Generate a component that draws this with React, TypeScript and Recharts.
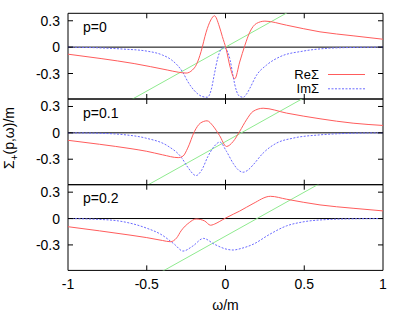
import React from 'react';
import { LineChart, Line, XAxis, YAxis, ReferenceLine, ReferenceArea, Legend } from 'recharts';

// ---------- data ----------
const X_TICKS = [-1, -0.5, 0, 0.5, 1];
const X_TICK_LABELS = ['-1', '-0.5', '0', '0.5', '1'];
const Y_TICKS = [-0.3, 0, 0.3];
const Y_TICK_LABELS = ['-0.3', '0', '0.3'];
const P_LABELS = ['p=0', 'p=0.1', 'p=0.2'];
const SERIES_NAMES = ['ReΣ', 'ImΣ'];

// p = 0
const re0Omega = [-1, -0.79, -0.58, -0.37, -0.3, -0.25, -0.21, -0.185, -0.155, -0.123, -0.093, -0.07, -0.04, -0.02, 0.004, 0.03, 0.059, 0.09, 0.123, 0.154, 0.197, 0.25, 0.387, 0.6, 0.81, 1];
const re0 = [-0.08, -0.13, -0.187, -0.26, -0.285, -0.295, -0.26, -0.2, -0.05, 0.17, 0.31, 0.357, 0.24, 0.12, -0.02, -0.23, -0.36, -0.17, 0.02, 0.17, 0.27, 0.296, 0.25, 0.174, 0.129, 0.09];
const im0Omega = [-1, -0.8, -0.65, -0.5, -0.4, -0.343, -0.27, -0.24, -0.2, -0.15, -0.115, -0.09, -0.07, -0.05, -0.03, -0.01, 0.01, 0.03, 0.048, 0.07, 0.09, 0.112, 0.135, 0.154, 0.197, 0.26, 0.345, 0.49, 0.66, 0.8, 1];
const im0 = [0, -0.008, -0.022, -0.045, -0.09, -0.145, -0.29, -0.39, -0.49, -0.56, -0.57, -0.48, -0.3, -0.13, -0.03, -0.005, -0.04, -0.15, -0.33, -0.5, -0.56, -0.57, -0.53, -0.47, -0.32, -0.205, -0.11, -0.046, -0.012, -0.004, 0];

// p = 0.1
const re1Omega = [-1, -0.8, -0.6, -0.5, -0.4, -0.3, -0.27, -0.24, -0.197, -0.16, -0.117, -0.08, -0.038, 0.006, 0.048, 0.09, 0.133, 0.175, 0.239, 0.387, 0.6, 0.81, 1];
const re1 = [-0.085, -0.13, -0.18, -0.21, -0.25, -0.282, -0.265, -0.174, 0.016, 0.11, 0.137, 0.08, -0.03, -0.155, -0.1, 0.016, 0.148, 0.244, 0.28, 0.225, 0.16, 0.11, 0.084];
const im1Omega = [-1, -0.8, -0.65, -0.506, -0.366, -0.28, -0.24, -0.187, -0.15, -0.112, -0.07, -0.036, 0.006, 0.048, 0.08, 0.112, 0.145, 0.175, 0.239, 0.324, 0.43, 0.6, 0.8, 1];
const im1 = [0, -0.005, -0.02, -0.06, -0.15, -0.28, -0.39, -0.486, -0.42, -0.27, -0.15, -0.105, -0.21, -0.345, -0.42, -0.448, -0.42, -0.365, -0.23, -0.117, -0.06, -0.023, -0.005, 0];

// p = 0.2
const re2Omega = [-1, -0.8, -0.6, -0.5, -0.4, -0.35, -0.31, -0.282, -0.23, -0.187, -0.133, -0.095, -0.06, -0.02, 0, 0.05, 0.09, 0.175, 0.285, 0.387, 0.6, 0.81, 1];
const re2 = [-0.093, -0.14, -0.19, -0.217, -0.25, -0.264, -0.22, -0.14, -0.046, -0.005, -0.027, -0.076, -0.055, -0.015, 0.005, 0.05, 0.085, 0.17, 0.253, 0.22, 0.155, 0.117, 0.087];
const im2Omega = [-1, -0.8, -0.68, -0.5, -0.41, -0.324, -0.27, -0.207, -0.14, -0.07, 0.01, 0.048, 0.1, 0.175, 0.28, 0.387, 0.49, 0.66, 0.8, 1];
const im2 = [0, -0.01, -0.027, -0.11, -0.18, -0.293, -0.37, -0.312, -0.226, -0.293, -0.35, -0.358, -0.34, -0.293, -0.18, -0.084, -0.039, -0.01, -0.003, 0];

// light line omega - p
const greenOmega = [-1, 1];
const green0 = [-1, 1];
const green1 = [-1.1, 0.9];
const green2 = [-1.2, 0.8];

// ---------- layout / style ----------
const W = 407;
const H = 313;
const PLOT_LEFT = 68;
const PLOT_RIGHT = 383;
const PANEL_TOPS = [13.3, 99, 184.7];
const PANEL_H = 85.7;
const X_MIN = -1;
const X_MAX = 1;
const Y_MIN = -0.59;
const Y_MAX = 0.385;
const FONT = '"Liberation Sans", Arial, Helvetica, sans-serif';
const FS = 14;
const LEGEND_FS = 13;
const TICK_PX = 5;
const TX = (TICK_PX / (PLOT_RIGHT - PLOT_LEFT)) * (X_MAX - X_MIN);
const TY = (TICK_PX / PANEL_H) * (Y_MAX - Y_MIN);
const RED = '#ff5c5c';
const BLUE = '#6a6aff';
const GREEN = '#8fea8f';
const DASH = '2 1.5';

const zip = (xs: number[], ys: number[]) => xs.map((x, i) => ({ x, y: ys[i] }));

const PANELS = [
  { re: zip(re0Omega, re0), im: zip(im0Omega, im0), green: zip(greenOmega, green0) },
  { re: zip(re1Omega, re1), im: zip(im1Omega, im1), green: zip(greenOmega, green1) },
  { re: zip(re2Omega, re2), im: zip(im2Omega, im2), green: zip(greenOmega, green2) },
];

const xLabel = (v: number) => X_TICK_LABELS[X_TICKS.indexOf(v)] ?? String(v);
const yLabel = (v: number) => Y_TICK_LABELS[Y_TICKS.indexOf(v)] ?? String(v);

const bottomTick = (props: any) => {
  const { x, y, payload } = props;
  return (
    <text x={x} y={y + 19} textAnchor="middle" fontSize={FS} fontFamily={FONT} fill="#000">
      {xLabel(payload.value)}
    </text>
  );
};
const leftTick = (props: any) => {
  const { x, y, payload } = props;
  return (
    <text x={x - 8} y={y + 5} textAnchor="end" fontSize={FS} fontFamily={FONT} fill="#000">
      {yLabel(payload.value)}
    </text>
  );
};

const LegendBox = () => (
  <svg width={100} height={32} style={{ display: 'block' }}>
    {SERIES_NAMES.map((name, i) => (
      <g key={name}>
        <text x={39} y={13 + i * 14.3} textAnchor="end" fontSize={LEGEND_FS} fontFamily={FONT} fill="#000">
          {name}
        </text>
        <line
          x1={48}
          x2={85}
          y1={8.5 + i * 14.3}
          y2={8.5 + i * 14.3}
          stroke={i === 0 ? RED : BLUE}
          strokeDasharray={i === 0 ? undefined : DASH}
        />
      </g>
    ))}
  </svg>
);

const innerXTicks = X_TICKS.filter((t) => t > X_MIN && t < X_MAX);

function Panel({ idx }: { idx: number }) {
  const top = PANEL_TOPS[idx];
  const bottom = top + PANEL_H;
  const last = idx === PANELS.length - 1;
  const d = PANELS[idx];
  return (
    <div style={{ position: 'absolute', left: 0, top: 0 }}>
      <LineChart
        width={W}
        height={H}
        margin={{ top, right: W - PLOT_RIGHT, bottom: last ? 0 : H - bottom, left: 0 }}
      >
        <XAxis
          type="number"
          dataKey="x"
          orientation="bottom"
          domain={[X_MIN, X_MAX]}
          ticks={X_TICKS}
          interval={0}
          allowDataOverflow
          hide={!last}
          height={last ? H - bottom : 0}
          tickSize={0}
          tickMargin={0}
          tickLine={false}
          axisLine={false}
          tick={bottomTick}
          label={
            last
              ? {
                  content: (p: any) => {
                    const vb = p.viewBox || {};
                    return (
                      <text
                        x={vb.x + vb.width / 2}
                        y={vb.y + 40}
                        textAnchor="middle"
                        fontSize={FS}
                        fontFamily={FONT}
                        fill="#000"
                      >
                        ω/m
                      </text>
                    );
                  },
                }
              : undefined
          }
        />
        <YAxis
          type="number"
          orientation="left"
          domain={[Y_MIN, Y_MAX]}
          ticks={Y_TICKS}
          interval={0}
          allowDataOverflow
          width={PLOT_LEFT}
          tickSize={0}
          tickMargin={0}
          tickLine={false}
          axisLine={false}
          tick={leftTick}
          label={
            idx === 1
              ? {
                  content: () => (
                    <text
                      transform="translate(13.5,138) rotate(-90)"
                      textAnchor="middle"
                      fontSize={FS}
                      fontFamily={FONT}
                      fill="#000"
                    >
                      Σ
                      <tspan dy={4} fontSize={10}>
                        +
                      </tspan>
                      <tspan dy={-4}>(p,ω)/m</tspan>
                    </text>
                  ),
                }
              : undefined
          }
        />
        <ReferenceLine y={0} stroke="#000" />
        <Line
          data={d.green}
          dataKey="y"
          type="linear"
          stroke={GREEN}
          strokeWidth={1}
          dot={false}
          legendType="none"
          isAnimationActive={false}
        />
        <Line
          data={d.im}
          dataKey="y"
          name={SERIES_NAMES[1]}
          type="monotone"
          stroke={BLUE}
          strokeWidth={1}
          strokeDasharray={DASH}
          dot={false}
          isAnimationActive={false}
        />
        <Line
          data={d.re}
          dataKey="y"
          name={SERIES_NAMES[0]}
          type="monotone"
          stroke={RED}
          strokeWidth={1}
          dot={false}
          isAnimationActive={false}
        />
        {innerXTicks.map((t) => (
          <ReferenceLine
            key={'xb' + t}
            segment={[
              { x: t, y: Y_MIN },
              { x: t, y: Y_MIN + TY },
            ]}
            stroke="#000"
          />
        ))}
        {innerXTicks.map((t) => (
          <ReferenceLine
            key={'xt' + t}
            segment={[
              { x: t, y: Y_MAX },
              { x: t, y: Y_MAX - TY },
            ]}
            stroke="#000"
          />
        ))}
        {Y_TICKS.map((t) => (
          <ReferenceLine
            key={'yl' + t}
            segment={[
              { x: X_MIN, y: t },
              { x: X_MIN + TX, y: t },
            ]}
            stroke="#000"
          />
        ))}
        {Y_TICKS.map((t) => (
          <ReferenceLine
            key={'yr' + t}
            segment={[
              { x: X_MAX, y: t },
              { x: X_MAX - TX, y: t },
            ]}
            stroke="#000"
          />
        ))}
        <ReferenceArea
          x1={X_MIN}
          x2={X_MAX}
          y1={Y_MIN}
          y2={Y_MAX}
          fill="none"
          fillOpacity={0}
          stroke="#000"
          strokeWidth={1}
          strokeOpacity={1}
          label={{
            content: (p: any) => {
              const vb = p.viewBox || {};
              return (
                <text x={vb.x + 15} y={vb.y + 18.5} fontSize={FS} fontFamily={FONT} fill="#000">
                  {P_LABELS[idx]}
                </text>
              );
            },
          }}
        />
        {idx === 0 && (
          <Legend
            layout="vertical"
            align="center"
            verticalAlign="middle"
            wrapperStyle={{ left: 280, top: 66, width: 100, height: 32 }}
            content={() => <LegendBox />}
          />
        )}
      </LineChart>
    </div>
  );
}

export default function App() {
  return (
    <div style={{ position: 'absolute', left: 0, top: 0, width: W, height: H, background: '#fff' }}>
      {PANELS.map((_, i) => (
        <Panel key={i} idx={i} />
      ))}
    </div>
  );
}
